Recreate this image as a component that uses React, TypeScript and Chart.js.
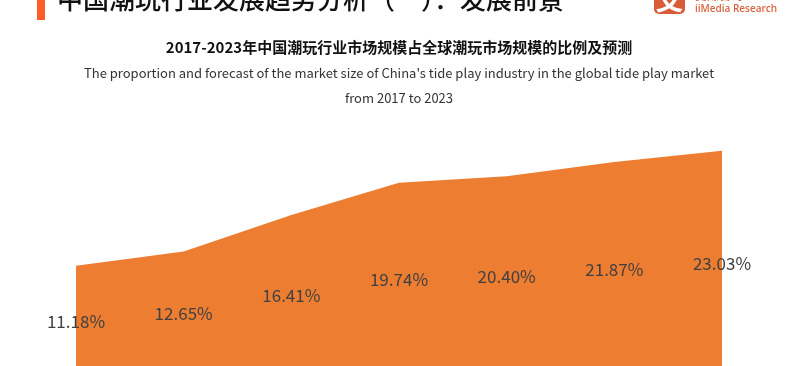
import React, { useEffect, useRef } from 'react';
import { Chart, registerables } from 'chart.js';

Chart.register(...registerables);

const years = ['2017', '2018', '2019', '2020', '2021', '2022', '2023'];
const shares = [11.18, 12.65, 16.41, 19.74, 20.4, 21.87, 23.03];
const headerText = '中国潮玩行业发展趋势分析（一）：发展前景';
const titleText = '2017-2023年中国潮玩行业市场规模占全球潮玩市场规模的比例及预测';
const subtitleLines = [
  "The proportion and forecast of the market size of China's tide play industry in the global tide play market",
  'from 2017 to 2023',
];
const brandText = 'iiMedia Research';
const brandTextCn = '艾媒咨询';

const FONT = '"Noto Sans CJK SC", "Noto Sans", sans-serif';

const centerLabels = {
  id: 'centerLabels',
  afterDatasetsDraw(chart: any) {
    const ctx = chart.ctx;
    const meta = chart.getDatasetMeta(0);
    const y0 = chart.scales.y.getPixelForValue(0);
    ctx.save();
    ctx.font = `17px ${FONT}`;
    ctx.fillStyle = '#404040';
    ctx.textAlign = 'center';
    ctx.textBaseline = 'middle';
    meta.data.forEach((el: any, i: number) => {
      const v = chart.data.datasets[0].data[i] as number;
      ctx.fillText(`${v.toFixed(2)}%`, el.x, (el.y + y0) / 2 + 1);
    });
    ctx.restore();
  },
};

export default function App() {
  const ref = useRef<HTMLCanvasElement | null>(null);

  useEffect(() => {
    if (!ref.current) return;
    const chart = new Chart(ref.current, {
      type: 'line',
      data: {
        labels: years,
        datasets: [
          {
            data: shares,
            fill: 'origin',
            backgroundColor: '#ED7D31',
            borderColor: '#ED7D31',
            borderWidth: 0,
            pointRadius: 0,
            tension: 0,
          },
        ],
      },
      options: {
        animation: false,
        responsive: false,
        devicePixelRatio: 1,
        layout: { padding: { left: 76, right: 78, top: 0, bottom: 1.5 } },
        scales: {
          x: { display: false },
          y: { display: false, min: 0, max: 25 },
        },
        plugins: {
          legend: { display: false },
          tooltip: { enabled: false },
          title: {
            display: true,
            text: titleText,
            color: '#111111',
            font: { family: FONT, size: 15, weight: 'bold', lineHeight: 1.2 },
            padding: { top: 38, bottom: 5 },
          },
          subtitle: {
            display: true,
            text: subtitleLines,
            color: '#333333',
            font: { family: FONT, size: 13, weight: 'normal', lineHeight: 25 / 13 },
            padding: { top: 0, bottom: 20.5 },
          },
        },
      },
      plugins: [centerLabels],
    });
    return () => chart.destroy();
  }, []);

  return (
    <div
      style={{
        position: 'fixed',
        left: 0,
        top: 0,
        width: 800,
        height: 366,
        overflow: 'hidden',
        background: '#ffffff',
      }}
    >
      <canvas ref={ref} width={800} height={376} style={{ position: 'absolute', left: 0, top: 0 }} />
      <div
        style={{
          position: 'absolute',
          left: 37,
          top: -10,
          width: 8,
          height: 30,
          background: '#FF5C28',
        }}
      />
      <div
        style={{
          position: 'absolute',
          left: 57,
          top: -15,
          fontFamily: FONT,
          fontSize: 26,
          lineHeight: '26px',
          color: '#111111',
          whiteSpace: 'nowrap',
          fontWeight: 500,
        }}
      >
        {headerText}
      </div>
      <div
        style={{
          position: 'absolute',
          left: 654,
          top: -18,
          width: 31,
          height: 32,
          borderRadius: 5,
          background: '#DA5B38',
          overflow: 'hidden',
          color: '#ffffff',
          fontFamily: FONT,
          fontSize: 28,
          lineHeight: '32px',
          textAlign: 'center',
          fontWeight: 700,
        }}
      >
        艾
      </div>
      <div
        style={{
          position: 'absolute',
          left: 695,
          top: -12,
          fontFamily: FONT,
          fontSize: 12,
          lineHeight: '14px',
          color: '#DA6442',
          whiteSpace: 'nowrap',
          fontWeight: 700,
        }}
      >
        {brandTextCn}
      </div>
      <div
        style={{
          position: 'absolute',
          left: 695,
          top: 1,
          fontFamily: '"Open Sans", sans-serif',
          fontSize: 10,
          lineHeight: '14px',
          color: '#DA6442',
          whiteSpace: 'nowrap',
          fontWeight: 600,
        }}
      >
        {brandText}
      </div>
    </div>
  );
}
